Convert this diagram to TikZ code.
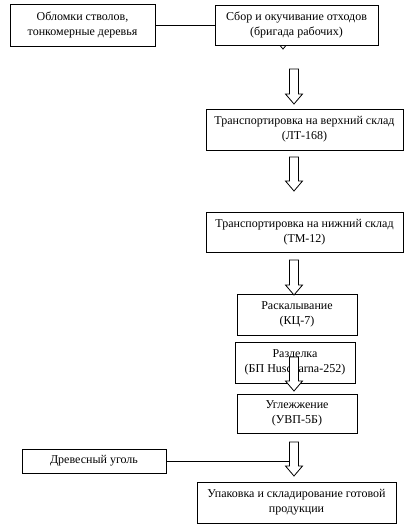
\documentclass[tikz,border=0pt]{standalone}
\usepackage{fontspec}
\setmainfont{Liberation Serif}
\begin{document}
\begin{tikzpicture}[x=1pt,y=-1pt,
  box/.style={draw,fill=white,line width=0.8pt,align=center,inner sep=0pt,
    font=\fontsize{12}{15}\selectfont},
  blockarrow/.style={draw,fill=white,line width=0.8pt}]
  \useasboundingbox (0,0) rectangle (406,528);
  % hidden arrow behind the first step
  \draw[blockarrow] (278.5,30) -- (287.5,30) -- (287.5,39) -- (291.5,39) -- (283,49) -- (274.5,39) -- (278.5,39) -- cycle;
  \node[box,minimum width=145,minimum height=42] (oblomki) at (82.5,25) {Обломки стволов,\\тонкомерные деревья};
  \node[box,minimum width=163,minimum height=40] (sbor) at (296.5,25) {Сбор и окучивание отходов\\(бригада рабочих)};
  \draw[line width=0.8pt] (oblomki.east) -- (oblomki.east -| sbor.west);
  \node[box,minimum width=197,minimum height=41] (verh) at (304.5,129.5) {Транспортировка на верхний склад\\(ЛТ-168)};
  \node[box,minimum width=197,minimum height=40] (nizh) at (304.5,232) {Транспортировка на нижний склад\\(ТМ-12)};
  \node[box,minimum width=120,minimum height=41] (raskal) at (297,314.5) {Раскалывание\\(КЦ-7)};
  \node[box,minimum width=120,minimum height=41] (razdel) at (295,362.5) {Разделка\\(БП Husqvarna-252)};
  \node[box,minimum width=120,minimum height=39] (ugl) at (297,413.5) {Углежжение\\(УВП-5Б)};
  \node[box,minimum width=144,minimum height=24] (ugol) at (94,461) {Древесный уголь};
  \node[box,minimum width=199,minimum height=41] (upak) at (296.5,502.5) {Упаковка и складирование готовой\\продукции};
  \coordinate (ugolend) at (290,461);
  \draw[line width=0.8pt] (ugol.east) -- (ugolend);
  % block arrows between the steps
  \foreach \x/\ya/\yb in {294/69/104,294/157/191,294/260/295,294/357/391,294/442/476}
    \draw[blockarrow] (\x-4.5,\ya) -- (\x+4.5,\ya) -- (\x+4.5,\yb-10) -- (\x+8.5,\yb-10)
      -- (\x,\yb) -- (\x-8.5,\yb-10) -- (\x-4.5,\yb-10) -- cycle;
\end{tikzpicture}
\end{document}
